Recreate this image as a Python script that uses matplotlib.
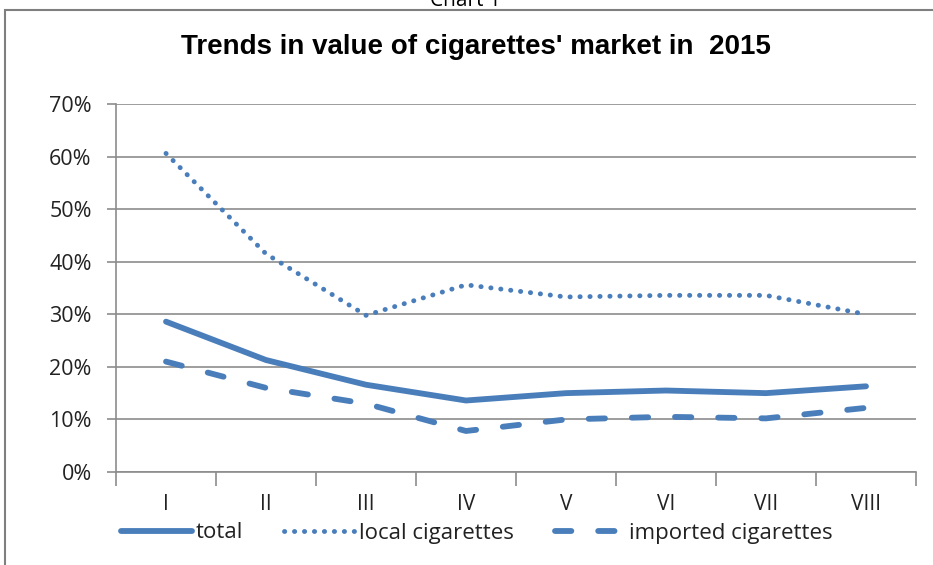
import matplotlib
matplotlib.use("Agg")
import matplotlib.pyplot as plt
from matplotlib.patches import Rectangle
from matplotlib.ticker import FixedLocator, FuncFormatter

categories = ["I", "II", "III", "IV", "V", "VI", "VII", "VIII"]
total = [28.6, 21.3, 16.6, 13.6, 15.0, 15.5, 15.0, 16.3]
local_cig = [60.6, 41.5, 29.8, 35.6, 33.3, 33.6, 33.6, 30.0]
imported_cig = [21.0, 16.0, 13.0, 7.8, 10.0, 10.5, 10.2, 12.2]
y_ticks = [0, 10, 20, 30, 40, 50, 60, 70]

blue = "#4A7EBB"
grey = "#8C8C8C"
txt = "#222222"

fig = plt.figure(figsize=(9.33, 5.65), dpi=100)
ax = fig.add_axes([116/933, 1-472/565, (916-116)/933, (472-104)/565])

x = list(range(len(categories)))
ax.plot(x, total, color=blue, lw=4.2, solid_capstyle="round", solid_joinstyle="round", label="total")
ax.plot(x, local_cig, color=blue, lw=3.5, linestyle=(0, (0.05, 2.0)), dash_capstyle="round", label="local cigarettes")
ax.plot(x, imported_cig, color=blue, lw=4.2, linestyle=(0, (2.8, 4.6)), dash_capstyle="round", label="imported cigarettes")

ax.set_xlim(-0.5, len(categories) - 0.5)
ax.set_ylim(0, 70)
ax.yaxis.set_major_locator(FixedLocator(y_ticks))
ax.yaxis.set_major_formatter(FuncFormatter(lambda v, p: f"{int(v)}%"))
ax.grid(axis="y", color=grey, lw=1.2)
ax.set_axisbelow(True)

ax.set_xticks([i + 0.5 for i in range(-1, len(categories))], minor=False)
ax.set_xticklabels([])
ax.set_xticks(x, minor=True)
ax.set_xticklabels(categories, minor=True)
ax.tick_params(axis="x", which="major", length=10, width=1.2, color=grey, direction="out")
ax.tick_params(axis="x", which="minor", length=0, pad=16, labelsize=15, labelcolor=txt)
ax.tick_params(axis="y", length=6.5, width=1.2, color=grey, labelsize=15.5, labelcolor=txt, pad=11)
for lbl in ax.get_xticklabels(minor=True) + ax.get_yticklabels():
    lbl.set_family("Open Sans")

for s in ["top", "right"]:
    ax.spines[s].set_visible(False)
for s in ["left", "bottom"]:
    ax.spines[s].set_color(grey)
    ax.spines[s].set_linewidth(1.2)

fig.text(476/933, 1 - 47/565, "Trends in value of cigarettes' market in  2015",
         ha="center", va="center", fontsize=20, fontweight="bold", family="Liberation Sans")
fig.text(465/933, 1.0, "Chart 1", ha="center", va="center", fontsize=15, family="Open Sans")

fig.patches.append(Rectangle((5/933, -0.1), 1.2, 1 - 10/565 + 0.1, transform=fig.transFigure,
                             fill=False, edgecolor="#7F7F7F", lw=1.5))

leg = fig.legend(loc="center", bbox_to_anchor=(477/933, 1 - 533/565), ncol=3, frameon=False,
                 handlelength=3.2, handletextpad=0.15, columnspacing=1.85,
                 prop={"family": "Open Sans", "size": 16})
for t in leg.get_texts():
    t.set_color(txt)

fig.savefig("out.png", dpi=100)
